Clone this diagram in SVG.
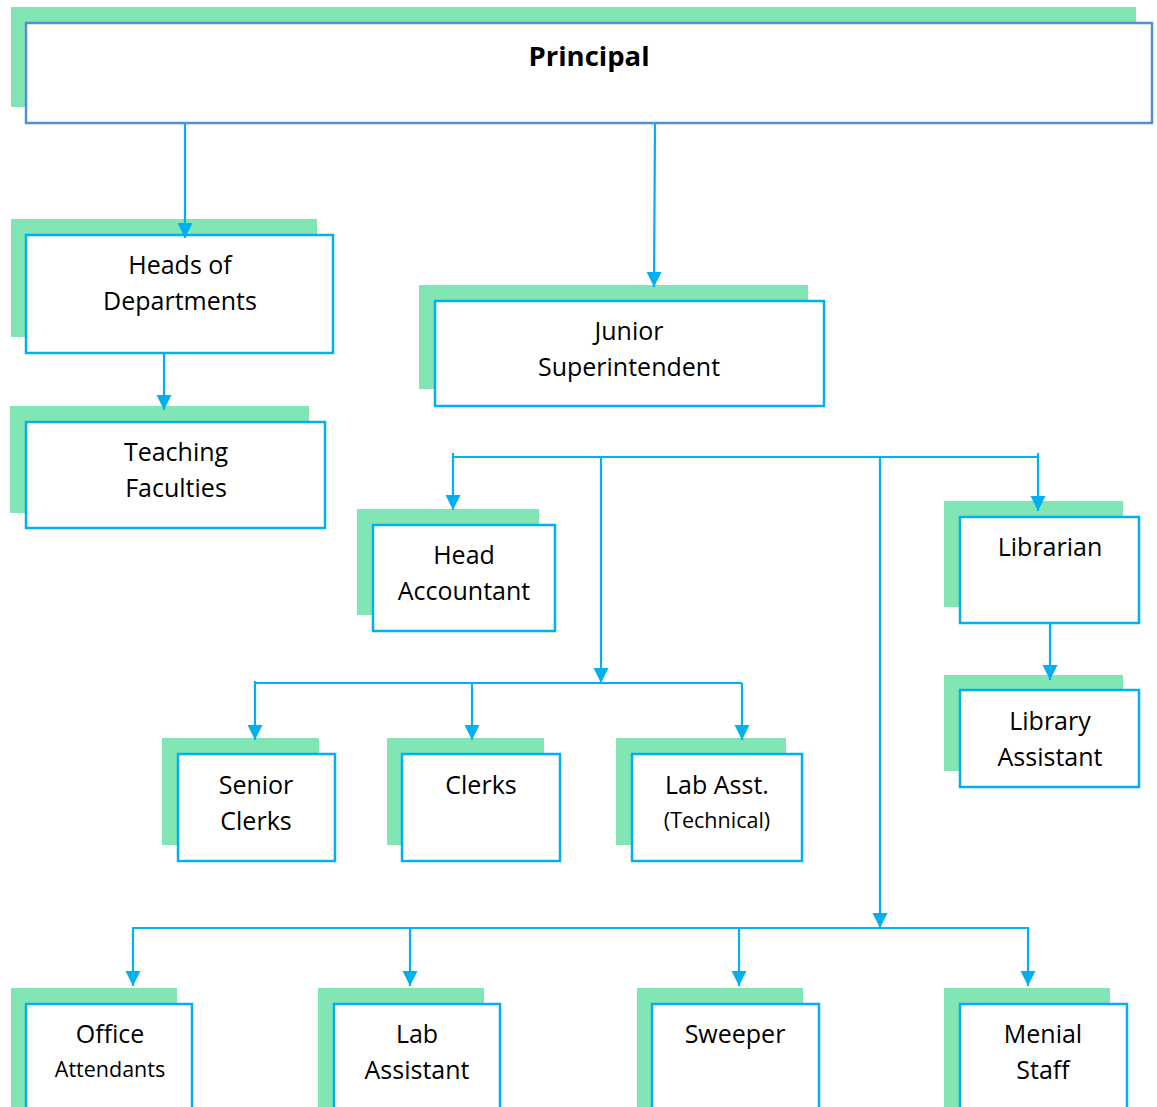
<svg xmlns="http://www.w3.org/2000/svg" width="1157" height="1107" viewBox="0 0 1157 1107">
<style>
.sh{fill:#82e6b4}
.bx{fill:#fff;stroke:#00b0f0;stroke-width:2.5}
.pb{fill:#fff;stroke:#558ed5;stroke-width:2.5}
.t{font-family:"Open Sans","Noto Sans",sans-serif;font-size:25px;fill:#000;text-anchor:middle}
.s{font-size:21.5px}
.b{font-weight:bold;font-size:27.5px}
.c{fill:none;stroke:#00b0f0;stroke-width:2.2}
</style>
<defs>
<marker id="ah" markerUnits="userSpaceOnUse" markerWidth="16" markerHeight="16" refX="15" refY="7.5" orient="auto">
<path d="M0,0 L15,7.5 L0,15 Z" fill="#00b0f0"/>
</marker>
</defs>
<g id="principal"><rect class="sh" x="11" y="7" width="1125" height="100"/><rect class="pb" x="26" y="23" width="1126" height="100"/><text class="t b" x="589" y="66">Principal</text></g>
<g id="hod"><rect class="sh" x="11" y="219" width="306" height="118"/><rect class="bx" x="26" y="235" width="307" height="118"/><text class="t" x="180" y="274">Heads of</text><text class="t" x="180" y="310">Departments</text></g>
<g id="teaching"><rect class="sh" x="10" y="406" width="299" height="107"/><rect class="bx" x="26" y="422" width="299" height="106"/><text class="t" x="176" y="461">Teaching</text><text class="t" x="176" y="497">Faculties</text></g>
<g id="junior"><rect class="sh" x="419" y="285" width="389" height="104"/><rect class="bx" x="435" y="301" width="389" height="105"/><text class="t" x="629" y="340">Junior</text><text class="t" x="629" y="376">Superintendent</text></g>
<g id="headacc"><rect class="sh" x="357" y="509" width="182" height="106"/><rect class="bx" x="373" y="525" width="182" height="106"/><text class="t" x="464" y="564">Head</text><text class="t" x="464" y="600">Accountant</text></g>
<g id="librarian"><rect class="sh" x="944" y="501" width="179" height="106"/><rect class="bx" x="960" y="517" width="179" height="106"/><text class="t" x="1050" y="556">Librarian</text></g>
<g id="libasst"><rect class="sh" x="944" y="675" width="179" height="96"/><rect class="bx" x="960" y="690" width="179" height="97"/><text class="t" x="1050" y="730">Library</text><text class="t" x="1050" y="766">Assistant</text></g>
<g id="senior"><rect class="sh" x="162" y="738" width="157" height="107"/><rect class="bx" x="178" y="754" width="157" height="107"/><text class="t" x="256" y="794">Senior</text><text class="t" x="256" y="830">Clerks</text></g>
<g id="clerks"><rect class="sh" x="387" y="738" width="157" height="107"/><rect class="bx" x="402" y="754" width="158" height="107"/><text class="t" x="481" y="794">Clerks</text></g>
<g id="labtech"><rect class="sh" x="616" y="738" width="170" height="107"/><rect class="bx" x="632" y="754" width="170" height="107"/><text class="t" x="717" y="794">Lab Asst.</text><text class="t s" x="717" y="828">(Technical)</text></g>
<g id="office"><rect class="sh" x="11" y="988" width="166" height="130"/><rect class="bx" x="26" y="1004" width="166" height="120"/><text class="t" x="110" y="1043">Office</text><text class="t s" x="110" y="1077">Attendants</text></g>
<g id="labassistant"><rect class="sh" x="318" y="988" width="166" height="130"/><rect class="bx" x="334" y="1004" width="166" height="120"/><text class="t" x="417" y="1043">Lab</text><text class="t" x="417" y="1079">Assistant</text></g>
<g id="sweeper"><rect class="sh" x="637" y="988" width="166" height="130"/><rect class="bx" x="652" y="1004" width="167" height="120"/><text class="t" x="735" y="1043">Sweeper</text></g>
<g id="menial"><rect class="sh" x="944" y="988" width="166" height="130"/><rect class="bx" x="960" y="1004" width="167" height="120"/><text class="t" x="1043" y="1043">Menial</text><text class="t" x="1043" y="1079">Staff</text></g>
<g id="connectors">
<path class="c" d="M185,124 V238" marker-end="url(#ah)"/>
<path class="c" d="M655,124 L654,287" marker-end="url(#ah)"/>
<path class="c" d="M164,354 V410" marker-end="url(#ah)"/>
<path class="c" d="M453,457 H1038"/>
<path class="c" d="M453,453 V510" marker-end="url(#ah)"/>
<path class="c" d="M1038,453 V511" marker-end="url(#ah)"/>
<path class="c" d="M601,457 V683" marker-end="url(#ah)"/>
<path class="c" d="M880,457 V928" marker-end="url(#ah)"/>
<path class="c" d="M1050,624 V680" marker-end="url(#ah)"/>
<path class="c" d="M255,683 H742"/>
<path class="c" d="M255,681 V740" marker-end="url(#ah)"/>
<path class="c" d="M472,683 V740" marker-end="url(#ah)"/>
<path class="c" d="M742,683 V740" marker-end="url(#ah)"/>
<path class="c" d="M133,928 H1028"/>
<path class="c" d="M133,927 V986" marker-end="url(#ah)"/>
<path class="c" d="M410,928 V986" marker-end="url(#ah)"/>
<path class="c" d="M739,928 V986" marker-end="url(#ah)"/>
<path class="c" d="M1028,927 V986" marker-end="url(#ah)"/>
</g>
</svg>
